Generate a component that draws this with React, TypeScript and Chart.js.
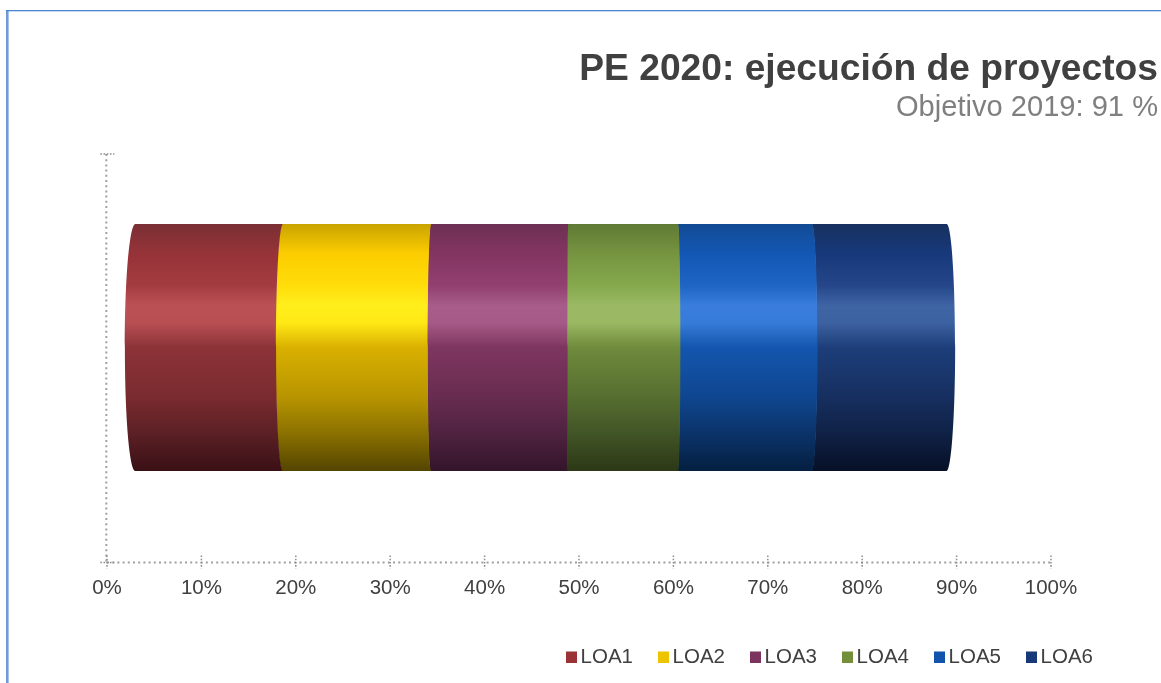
import React, { useEffect, useRef } from "react";
import { Chart, registerables } from "chart.js";

Chart.register(...registerables);

const category = ["PE 2020"];
const seriesNames = ["LOA1", "LOA2", "LOA3", "LOA4", "LOA5", "LOA6"];
const seriesValues = [15.6, 15.7, 14.5, 11.65, 14.2, 14.3];
const barStart = 3;
const axisTicks = [0, 10, 20, 30, 40, 50, 60, 70, 80, 90, 100];
const titleText = "PE 2020: ejecución de proyectos";
const subtitleText = "Objetivo 2019: 91 %";

const swatches = ["#9b3336", "#eec400", "#7c345e", "#738f3a", "#1254ad", "#17397a"];
const stops = [0, 0.12, 0.25, 0.33, 0.4, 0.5, 0.7, 0.85, 1];
const shades = [
  ["#7a3035", "#963338", "#a33c41", "#bb5155", "#b84f53", "#8c3338", "#7a2b2f", "#5a2025", "#3a1015"],
  ["#c9a300", "#fccd00", "#ffdd0a", "#ffef1c", "#ffe815", "#d9b000", "#b89500", "#8a7000", "#544500"],
  ["#6d3054", "#833561", "#924070", "#a75c89", "#a65a87", "#7e3660", "#682c50", "#4f2240", "#33152a"],
  ["#5f7a35", "#769440", "#85a84d", "#9bb964", "#9ab862", "#6f8b3c", "#566e30", "#415426", "#2c3816"],
  ["#124b94", "#1357b4", "#1f65c4", "#3a7ddc", "#377bd9", "#1356ae", "#0f4690", "#0b3369", "#041f40"],
  ["#17305f", "#17397b", "#25478a", "#3f64a4", "#3d62a1", "#1d3e7a", "#162f60", "#0f2145", "#061026"],
];

const FONT = '"Liberation Sans", Arial, sans-serif';
const LIFT = 10.5;
const CURVE = 0.0233;
const K = 0.5523;
const SEAM = 0.5;

const decor = {
  id: "decor",
  beforeDraw(chart: any) {
    const { ctx, width, height } = chart;
    ctx.save();
    ctx.fillStyle = "#ffffff";
    ctx.fillRect(0, 0, width, height);
    ctx.fillStyle = "#6f9bd6";
    ctx.fillRect(6, 10, 2.6, height - 10);
    ctx.fillStyle = "#4a86d0";
    ctx.fillRect(6, 10, width - 6, 1.3);

    ctx.textAlign = "right";
    ctx.textBaseline = "alphabetic";
    ctx.fillStyle = "#404040";
    ctx.font = `bold 37.2px ${FONT}`;
    ctx.fillText(titleText, 1158, 79.5);
    ctx.fillStyle = "#7f7f7f";
    ctx.font = `29.1px ${FONT}`;
    ctx.fillText(subtitleText, 1158, 115.5);
    ctx.restore();
  },
  beforeDatasetDraw(chart: any, args: any) {
    const { ctx, chartArea } = chart;
    const i = args.index;
    const centre = (chartArea.left + chartArea.right) / 2 + 4;
    const overlap = i < seriesNames.length - 1 ? SEAM : 0;
    ctx.save();
    args.meta.data.forEach((bar: any) => {
      const { x: rawX, y, base, height } = bar.getProps(["x", "y", "base", "height"], true);
      const top = y - height / 2 - LIFT;
      const bottom = y + height / 2 - LIFT;
      const mid = (top + bottom) / 2;
      const rise = (height / 2) * K;
      const x = rawX + overlap;
      const bl = (base - centre) * CURVE;
      const br = (rawX - centre) * CURVE;
      const g = ctx.createLinearGradient(0, top, 0, bottom);
      stops.forEach((s, n) => g.addColorStop(s, shades[i][n]));
      ctx.beginPath();
      ctx.moveTo(base, top);
      ctx.lineTo(x, top);
      ctx.bezierCurveTo(x + br * K, top, x + br, mid - rise, x + br, mid);
      ctx.bezierCurveTo(x + br, mid + rise, x + br * K, bottom, x, bottom);
      ctx.lineTo(base, bottom);
      ctx.bezierCurveTo(base + bl * K, bottom, base + bl, mid + rise, base + bl, mid);
      ctx.bezierCurveTo(base + bl, mid - rise, base + bl * K, top, base, top);
      ctx.closePath();
      ctx.fillStyle = g;
      ctx.fill();
    });
    ctx.restore();
    return false;
  },
  afterDraw(chart: any) {
    const { ctx, chartArea, scales } = chart;
    const axisX = chartArea.left - 0.7;
    const axisY = chartArea.bottom + 0.5;
    ctx.save();
    ctx.strokeStyle = "#a0a0a0";
    ctx.lineWidth = 2;
    ctx.setLineDash([2, 3.2]);
    ctx.beginPath();
    ctx.moveTo(axisX, chartArea.top);
    ctx.lineTo(axisX, axisY);
    ctx.moveTo(chartArea.left, axisY);
    ctx.lineTo(chartArea.right, axisY);
    ctx.stroke();

    ctx.lineWidth = 1.5;
    ctx.strokeStyle = "#8c8c8c";
    ctx.setLineDash([1.6, 1.6]);
    ctx.beginPath();
    scales.x.ticks.forEach((t: any) => {
      const px = scales.x.getPixelForValue(t.value);
      ctx.moveTo(px, axisY - 7);
      ctx.lineTo(px, axisY + 6);
    });
    [chartArea.top, axisY].forEach((py: number) => {
      ctx.moveTo(axisX - 6, py);
      ctx.lineTo(axisX + 8, py);
    });
    ctx.stroke();
    ctx.setLineDash([]);

    ctx.font = `20.5px ${FONT}`;
    ctx.textAlign = "left";
    ctx.textBaseline = "alphabetic";
    chart.data.datasets.forEach((d: any, n: number) => {
      const bx = 566 + n * 92;
      ctx.fillStyle = d.backgroundColor;
      ctx.fillRect(bx, 651.5, 11, 11.5);
      ctx.fillStyle = "#404040";
      ctx.fillText(d.label, bx + 14.6, 662.5);
    });
    ctx.restore();
  },
};

export default function App() {
  const ref = useRef<HTMLCanvasElement>(null);

  useEffect(() => {
    let running = barStart;
    const datasets = seriesNames.map((label, i) => {
      const span = [running, running + seriesValues[i]];
      running += seriesValues[i];
      return { label, data: [span], backgroundColor: swatches[i], borderWidth: 0 };
    });
    const chart = new Chart(ref.current as HTMLCanvasElement, {
      type: "bar",
      data: { labels: category, datasets: datasets as any },
      plugins: [decor],
      options: {
        indexAxis: "y",
        responsive: false,
        animation: false,
        devicePixelRatio: 1,
        layout: { padding: { left: 107, right: 110, top: 154, bottom: 81 } },
        datasets: { bar: { barPercentage: 247 / 408, categoryPercentage: 1, grouped: false } },
        plugins: { legend: { display: false }, tooltip: { enabled: false }, title: { display: false } },
        scales: {
          y: { display: false, stacked: false },
          x: {
            min: 0,
            max: 100,
            afterFit: (s: any) => {
              s.height = 40;
            },
            afterBuildTicks: (s: any) => {
              s.ticks = axisTicks.map((value) => ({ value }));
            },
            grid: { display: false, drawTicks: false },
            border: { display: false },
            ticks: {
              padding: 14,
              autoSkip: false,
              maxRotation: 0,
              color: "#404040",
              font: { family: FONT, size: 20.5 },
              callback: (v: any) => `${v}%`,
            },
          },
        },
      } as any,
    });
    return () => chart.destroy();
  }, []);

  return (
    <div style={{ position: "absolute", left: 0, top: 0, width: 1161, height: 683 }}>
      <canvas ref={ref} width={1161} height={683} style={{ display: "block" }} />
    </div>
  );
}
